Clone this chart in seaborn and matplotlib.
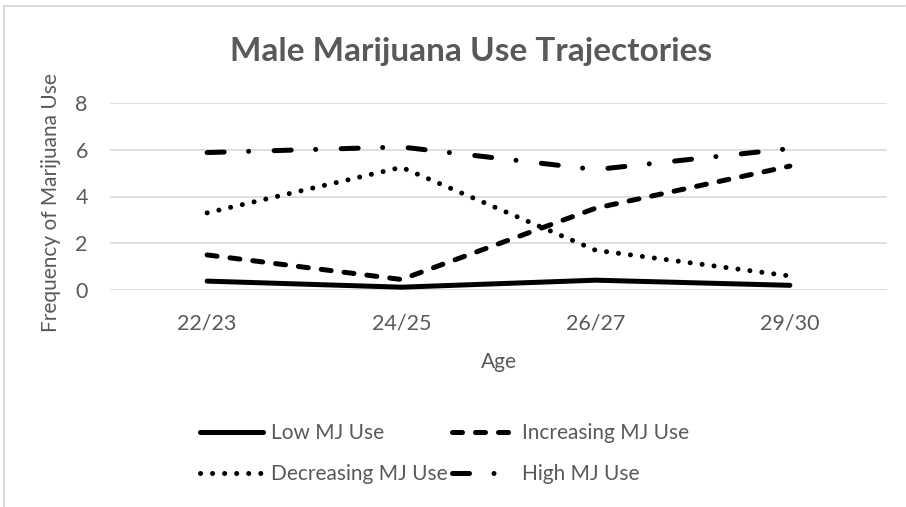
import pandas as pd
import numpy as np
import matplotlib.pyplot as plt
import seaborn as sns
from matplotlib.lines import Line2D

# data
ages = ['22/23', '24/25', '26/27', '29/30']
low_use = [0.38, 0.12, 0.42, 0.2]
increasing_use = [1.5, 0.45, 3.5, 5.3]
decreasing_use = [3.3, 5.25, 1.7, 0.6]
high_use = [5.88, 6.12, 5.15, 6.05]

groups = ['Low MJ Use', 'Increasing MJ Use', 'Decreasing MJ Use', 'High MJ Use']
values = [low_use, increasing_use, decreasing_use, high_use]

# dash patterns (in units of line width), Excel style
patterns = {
    'Low MJ Use': '-',
    'Increasing MJ Use': (0, (2.0, 2.6)),
    'Decreasing MJ Use': (0, (0.01, 2.4)),
    'High MJ Use': (0, (3.4, 4.9, 0.01, 5.1)),
}

sns.set_style('white')
plt.rcParams['font.family'] = ['Lato', 'DejaVu Sans']
plt.rcParams['lines.dash_capstyle'] = 'round'
plt.rcParams['lines.solid_capstyle'] = 'round'
grey = '#595959'
lw = 3.6

fig = plt.figure(figsize=(9.06, 5.07), dpi=100)
ax = fig.add_axes([110 / 906, 1 - 290 / 507, 777 / 906, 187 / 507])

for name, vals in zip(groups, values):
    sns.lineplot(x=ages, y=vals, ax=ax, color='black', lw=lw,
                 linestyle=patterns[name], label=name, legend=False)

ax.set_xlim(-0.5, 3.5)
ax.set_ylim(0, 8)
ax.set_yticks([0, 2, 4, 6, 8])
ax.grid(axis='y', color='#d9d9d9', lw=1.2)
ax.grid(axis='x', visible=False)
ax.set_axisbelow(True)
sns.despine(ax=ax, left=True, bottom=True)

ax.tick_params(axis='y', length=0, pad=16, labelsize=15.5, labelcolor=grey)
ax.tick_params(axis='x', length=0, pad=17, labelsize=15.5, labelcolor=grey)
ax.set_xlabel('Age', fontsize=15, color=grey, labelpad=13)
ax.set_ylabel('Frequency of Marijuana Use', fontsize=15, color=grey, labelpad=10)
ax.yaxis.label.set_y(0.47)

fig.text(0.52, 1 - 51 / 507, 'Male Marijuana Use Trajectories', ha='center', va='center',
         fontsize=24, fontweight='bold', color=grey)

# legend: Excel fills row by row, matplotlib column by column
handles = [Line2D([], [], color='black', lw=lw, linestyle=patterns[g]) for g in groups]
order = [0, 2, 1, 3]
fig.legend([handles[i] for i in order], [groups[i] for i in order], ncol=2,
           loc='upper left', bbox_to_anchor=(200 / 906, 1 - 423 / 507),
           frameon=False, fontsize=15, labelcolor=grey, handlelength=3.0,
           handletextpad=0.4, columnspacing=0.2, labelspacing=1.0,
           borderpad=0, borderaxespad=0)

# thin chart border (left and top only visible)
fig.add_artist(Line2D([3.5 / 906, 3.5 / 906], [0, 1 - 5.5 / 507], color='#d9d9d9', lw=1.5))
fig.add_artist(Line2D([3.5 / 906, 905 / 906], [1 - 5.5 / 507, 1 - 5.5 / 507], color='#d9d9d9', lw=1.5))

plt.savefig('out.png', dpi=100)
